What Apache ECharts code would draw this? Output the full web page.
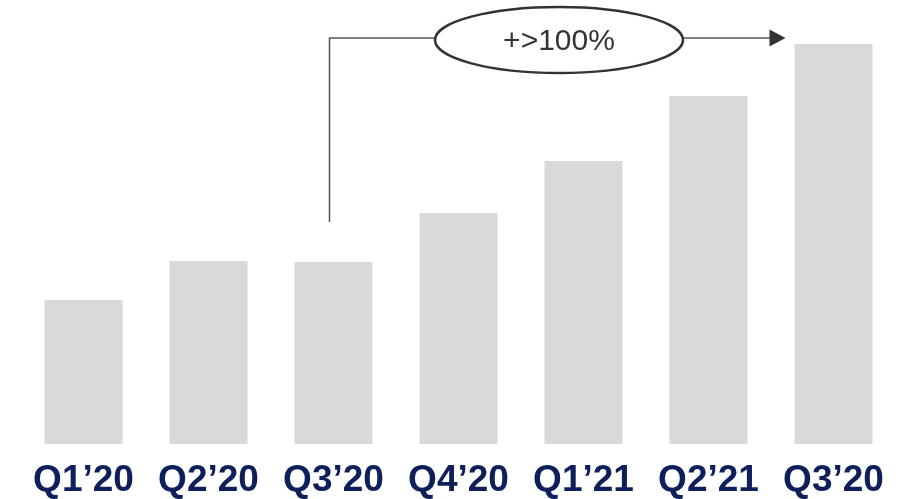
<!DOCTYPE html>
<html>
<head>
<meta charset="utf-8">
<script src="https://cdn.jsdelivr.net/npm/echarts@6/dist/echarts.min.js"></script>
<style>html,body{margin:0;padding:0;background:#fff;}#c{width:919px;height:499px;}</style>
</head>
<body>
<div id="c"></div>
<script>
const categories = ["Q1\u201920", "Q2\u201920", "Q3\u201920", "Q4\u201920", "Q1\u201921", "Q2\u201921", "Q3\u201920"];
const values = [144, 183, 182, 231, 283, 348, 400];
const annotationText = "+>100%";

const chart = echarts.init(document.getElementById('c'));
chart.setOption({
  animation: false,
  grid: { left: 21, right: 23, top: 44, bottom: 55 },
  xAxis: {
    type: 'category',
    data: categories,
    axisLine: { show: false },
    axisTick: { show: false },
    axisLabel: {
      interval: 0,
      hideOverlap: false,
      margin: 18,
      fontFamily: 'Liberation Sans, Arial, sans-serif',
      fontWeight: 'bold',
      fontSize: 37,
      color: '#0e1f5b'
    }
  },
  yAxis: {
    type: 'value', min: 0, max: 400, show: false,
    splitLine: { show: false }
  },
  series: [{
    type: 'bar',
    data: values,
    barWidth: 78,
    itemStyle: { color: '#d9d9d9' },
    silent: true
  }]
});

// Annotation positioned from the chart scales
const pStart = chart.convertToPixel({ gridIndex: 0 }, [2, values[2]]);
const pEnd = chart.convertToPixel({ gridIndex: 0 }, [6, values[6]]);
const lineX = pStart[0] - 4;
const lineBottom = pStart[1] - 40;
const lineY = pEnd[1] - 6;
const tipX = pEnd[0] - 48;
const ellCx = 559, ellRx = 124, ellRy = 33;

chart.setOption({
  graphic: [
    { type: 'polyline', shape: { points: [[lineX, lineBottom], [lineX, lineY], [ellCx - ellRx, lineY]] },
      style: { stroke: '#555', lineWidth: 1.5, fill: null } },
    { type: 'line', shape: { x1: ellCx + ellRx, y1: lineY, x2: tipX - 15, y2: lineY },
      style: { stroke: '#555', lineWidth: 1.5 } },
    { type: 'polygon', shape: { points: [[tipX - 16, lineY - 8.5], [tipX, lineY], [tipX - 16, lineY + 8.5]] },
      style: { fill: '#333' } },
    { type: 'ellipse', shape: { cx: ellCx, cy: lineY + 2, rx: ellRx, ry: ellRy },
      style: { fill: '#fff', stroke: '#333', lineWidth: 2.5 } },
    { type: 'text', x: ellCx, y: lineY + 4,
      style: { text: annotationText, fontFamily: 'Liberation Sans, Arial, sans-serif', fontSize: 30,
        fill: '#333', align: 'center', verticalAlign: 'middle' } }
  ]
});
</script>
</body>
</html>
